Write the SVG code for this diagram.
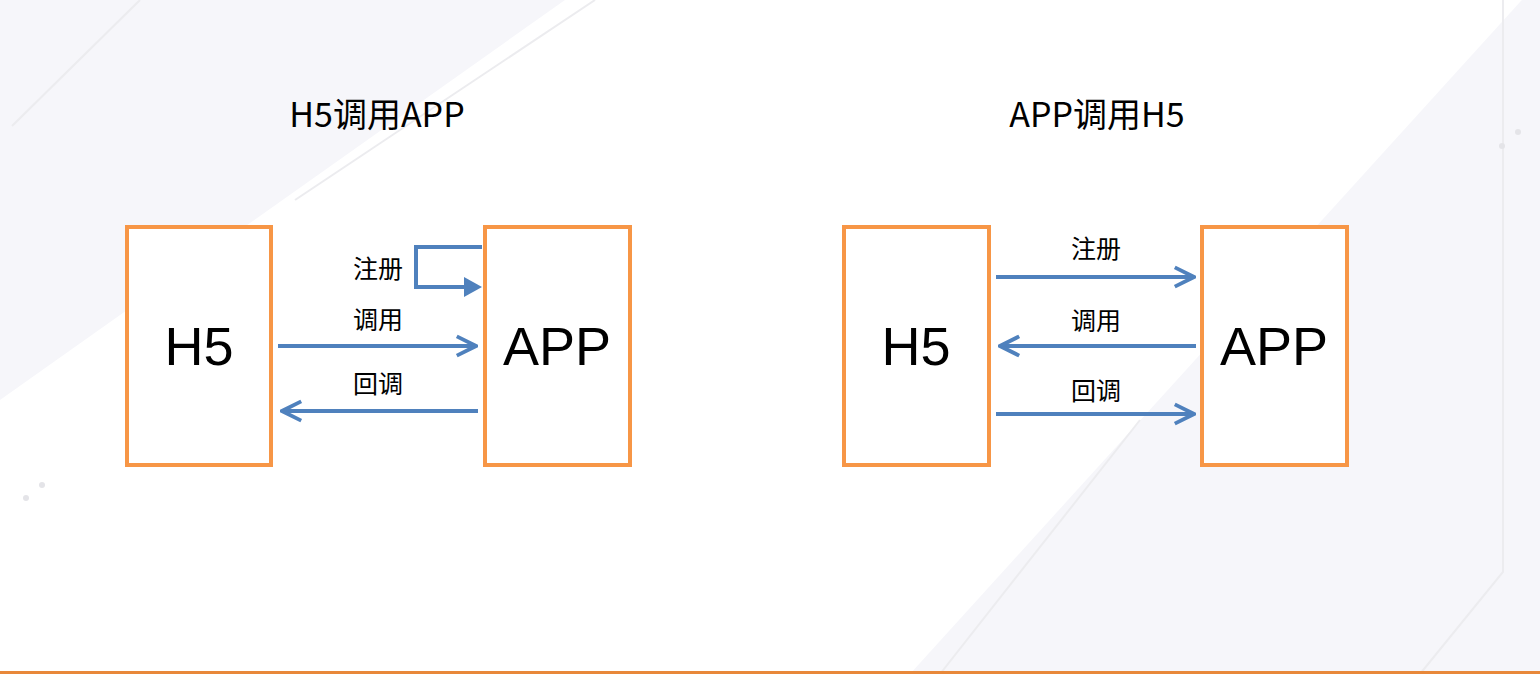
<svg xmlns="http://www.w3.org/2000/svg" width="1540" height="674" viewBox="0 0 1540 674">
<style>
.box{fill:#fff;stroke:#f79646;stroke-width:4}
.big{font-family:"Liberation Sans",Arial,sans-serif;font-size:54px;fill:#000;text-anchor:middle}
.title{font-family:"Noto Sans CJK SC","Liberation Sans",sans-serif;font-size:34px;fill:#000;text-anchor:middle}
.lbl{font-family:"Noto Sans CJK SC",sans-serif;font-size:25px;fill:#000;text-anchor:middle}
.c{fill:none;stroke:#4f81bd;stroke-width:4}
.bgl{fill:none;stroke:#ececef;stroke-width:2}
</style>
<defs>
<marker id="o2" viewBox="0 0 10 10" refX="9" refY="5" markerWidth="24" markerHeight="24" orient="auto" markerUnits="userSpaceOnUse">
<path d="M1,1 L9,5 L1,9" fill="none" stroke="#4f81bd" stroke-width="1.6"/>
</marker>
</defs>
<rect width="1540" height="674" fill="#fff"/>
<polygon points="0,0 565,0 0,400" fill="#f6f6fa"/>
<polygon points="910,674 1540,-20 1540,674" fill="#f6f6fa"/>
<line class="bgl" x1="140" y1="0" x2="12" y2="126"/>
<line class="bgl" x1="595" y1="0" x2="295" y2="200"/>
<line class="bgl" x1="1140" y1="420" x2="940" y2="674"/>
<polyline class="bgl" points="1503,0 1503,572 1420,674"/>
<circle cx="26" cy="498" r="3" fill="#e4e4e8"/><circle cx="42" cy="485" r="3" fill="#e4e4e8"/>
<circle cx="1502" cy="146" r="3" fill="#e4e4e8"/><circle cx="1518" cy="132" r="3" fill="#e4e4e8"/>
<rect x="0" y="671" width="1540" height="3" fill="#e8883a"/>
<text class="title" x="377" y="127">H5调用APP</text>
<text class="title" x="1097" y="127">APP调用H5</text>
<g id="h5-left"><rect class="box" x="127" y="227" width="144" height="238"/><text class="big" x="199" y="365">H5</text></g>
<g id="app-left"><rect class="box" x="485" y="227" width="145" height="238"/><text class="big" x="557" y="365">APP</text></g>
<g id="h5-right"><rect class="box" x="844" y="227" width="145" height="238"/><text class="big" x="916" y="365">H5</text></g>
<g id="app-right"><rect class="box" x="1202" y="227" width="145" height="238"/><text class="big" x="1274" y="365">APP</text></g>
<g id="connectors">
<polyline class="c" points="482,247 416,247 416,287 466,287"/>
<polygon points="464,277 482,287 464,297" fill="#4f81bd"/>
<line class="c" x1="278" y1="346" x2="476" y2="346" marker-end="url(#o2)"/>
<line class="c" x1="478" y1="411" x2="282" y2="411" marker-end="url(#o2)"/>
<line class="c" x1="996" y1="277" x2="1194" y2="277" marker-end="url(#o2)"/>
<line class="c" x1="1196" y1="346" x2="1000" y2="346" marker-end="url(#o2)"/>
<line class="c" x1="996" y1="414" x2="1194" y2="414" marker-end="url(#o2)"/>
</g>
<text class="lbl" x="378" y="278">注册</text>
<text class="lbl" x="378" y="329">调用</text>
<text class="lbl" x="378" y="393">回调</text>
<text class="lbl" x="1096" y="258">注册</text>
<text class="lbl" x="1096" y="330">调用</text>
<text class="lbl" x="1096" y="400">回调</text>
</svg>
